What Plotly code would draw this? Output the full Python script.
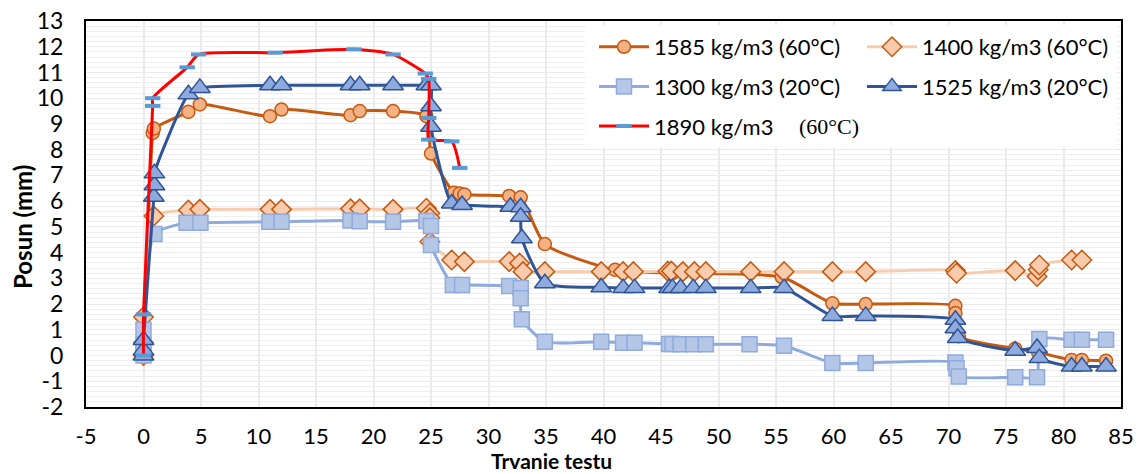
import plotly.graph_objects as go

# ---------------- data ----------------
t1585 = [0, 0, 0.8, 0.9, 3.9, 4.9, 11.0, 12.0, 18.0, 18.8, 21.7, 24.6, 25.0, 27.0, 27.5, 27.9,
         31.8, 32.8, 34.9, 41.0, 46.0, 55.5, 59.9, 62.8, 70.6, 70.6, 70.9, 75.8, 77.8, 80.7, 81.6, 83.7]
y1585 = [0, 0.3, 8.65, 8.82, 9.47, 9.76, 9.30, 9.56, 9.34, 9.50, 9.50, 9.30, 7.85, 6.33, 6.30, 6.26,
         6.20, 6.15, 4.33, 3.33, 3.20, 3.05, 2.03, 2.00, 1.93, 1.65, 0.75, 0.27, 0.12, -0.17, -0.17, -0.20]

t1400 = [0, 0, 0, 0.9, 3.9, 4.9, 11.0, 12.0, 18.0, 18.8, 21.7, 24.6, 24.9, 24.9, 24.9, 26.8, 27.9,
         31.8, 32.7, 33.0, 34.9, 39.8, 41.7, 42.6, 45.6, 45.9, 46.9, 47.9, 48.9, 52.8, 55.7, 59.9,
         62.8, 70.6, 70.7, 75.8, 77.7, 77.8, 77.9, 80.7, 81.6]
y1400 = [0, 0.5, 1.5, 5.42, 5.65, 5.68, 5.68, 5.68, 5.70, 5.70, 5.68, 5.72, 5.53, 5.35, 4.42, 3.71, 3.65,
         3.65, 3.59, 3.26, 3.26, 3.26, 3.26, 3.26, 3.28, 3.28, 3.26, 3.26, 3.26, 3.26, 3.26, 3.26,
         3.26, 3.30, 3.20, 3.30, 3.07, 3.33, 3.52, 3.71, 3.71]

t1300 = [0, 0, 0, 0.95, 3.75, 4.95, 10.95, 12.0, 18.0, 18.8, 21.7, 24.6, 25.0, 25.0, 26.9, 27.7,
         31.8, 32.8, 32.8, 32.9, 34.9, 39.8, 41.7, 42.7, 45.7, 46.0, 46.7, 47.8, 48.9, 52.7, 55.7,
         59.9, 62.8, 70.6, 70.7, 70.9, 75.8, 77.7, 77.9, 80.7, 81.6, 83.7]
y1300 = [0, 0.4, 1.0, 4.72, 5.16, 5.16, 5.20, 5.20, 5.25, 5.22, 5.20, 5.23, 5.03, 4.30, 2.74, 2.74,
         2.70, 2.62, 2.23, 1.41, 0.54, 0.54, 0.50, 0.50, 0.45, 0.45, 0.44, 0.44, 0.44, 0.44, 0.38,
         -0.29, -0.29, -0.27, -0.49, -0.81, -0.84, -0.84, 0.64, 0.61, 0.61, 0.61]

t1525 = [0, 0, 0, 0.9, 0.95, 0.95, 3.9, 4.9, 11.0, 12.0, 18.0, 18.8, 21.7, 24.6, 25.0, 25.0, 25.0,
         26.8, 27.7, 31.9, 32.8, 32.8, 32.9, 34.9, 39.8, 41.7, 42.7, 45.7, 46.0, 46.7, 47.8, 48.9,
         52.8, 55.7, 59.9, 62.8, 70.6, 70.6, 70.8, 75.8, 77.7, 77.9, 80.7, 81.6, 83.7]
y1525 = [0, 0.2, 0.6, 6.17, 6.62, 7.08, 10.15, 10.40, 10.50, 10.50, 10.50, 10.50, 10.50, 10.50, 10.50,
         9.69, 8.89, 5.91, 5.85, 5.78, 5.76, 5.39, 4.56, 2.81, 2.65, 2.62, 2.62, 2.62, 2.62, 2.62,
         2.62, 2.62, 2.62, 2.62, 1.54, 1.54, 1.39, 1.06, 0.68, 0.19, 0.29, -0.10, -0.43, -0.43, -0.43]

t1890 = [0, 0, 0.8, 0.8, 3.8, 4.8, 11.45, 18.3, 21.7, 24.5, 24.8, 24.8, 24.8, 26.8, 27.5]
y1890 = [0, 1.6, 9.7, 10.0, 11.2, 11.7, 11.77, 11.9, 11.7, 10.96, 10.75, 9.23, 8.39, 8.32, 7.29]

names = ["1585 kg/m3 (60°C)", "1400 kg/m3 (60°C)", "1300 kg/m3 (20°C)",
         "1525 kg/m3 (20°C)", "1890 kg/m3"]
x_ticks = list(range(-5, 90, 5))
y_ticks = list(range(-2, 14, 1))

# ---------------- figure ----------------
W, H = 1137, 474
ML, MR, MT, MB = 86, 16, 21, 67
PW, PH = W - ML - MR, H - MT - MB
FONT = "Lato"

def px_x(p):
    return (p - ML) / PW

def px_y(p):
    return 1 - (p - MT) / PH

fig = go.Figure()

specs = [
    (names[0], t1585, y1585, "#C55A11", "circle", 13, "#F4B183", "#C55A11", 1.5, "legend"),
    (names[1], t1400, y1400, "#F8CBAD", "diamond", 15, "#F8CBAD", "#C55A11", 1.5, "legend2"),
    (names[2], t1300, y1300, "#8FAADC", "square", 15, "#B4C7E7", "#8FAADC", 1.5, "legend"),
    (names[3], t1525, y1525, "#2F5597", "triangle-up", 18, "#8FAADC", "#2F5597", 1.5, "legend2"),
    (names[4], t1890, y1890, "#FF0000", "line-ew", 11, "#5B9BD5", "#5B9BD5", 4, "legend"),
]
for i, (nm, xs, ys, lc, sym, sz, fc, ec, lw, lg) in enumerate(specs):
    fig.add_trace(go.Scatter(
        x=xs, y=ys, name=nm, mode="lines+markers",
        line=dict(color=lc, width=3, shape="spline", smoothing=0.6),
        marker=dict(symbol=sym, size=sz, color=fc, line=dict(color=ec, width=lw)),
        legend=lg, legendgroup="g%d" % i,
    ))

leg_common = dict(orientation="v", bgcolor="rgba(0,0,0,0)", itemwidth=50,
                  font=dict(family=FONT, size=22, color="black"),
                  xanchor="left", yanchor="top", tracegroupgap=8, itemclick=False)
fig.update_layout(
    legend=dict(x=px_x(594), y=px_y(26), **leg_common),
    legend2=dict(x=px_x(862), y=px_y(26), **leg_common),
)

# white legend box
fig.add_shape(type="rect", xref="paper", yref="paper",
              x0=px_x(585), x1=px_x(1117), y0=px_y(147), y1=px_y(25),
              fillcolor="white", line=dict(width=0), layer="above")

fig.add_annotation(text="(60°C)", xref="paper", yref="paper", x=px_x(829), y=px_y(127),
                   showarrow=False, xanchor="center", yanchor="middle",
                   font=dict(family="Liberation Serif", size=22, color="black"))

fig.add_annotation(text="Posun (mm)", xref="paper", yref="paper", x=px_x(22), y=px_y(227),
                   showarrow=False, textangle=-90, xanchor="center", yanchor="middle",
                   font=dict(family=FONT, size=24, color="black", weight="bold"))
fig.add_annotation(text="Trvanie testu", xref="paper", yref="paper", x=px_x(551), y=px_y(460),
                   showarrow=False, xanchor="center", yanchor="middle",
                   font=dict(family=FONT, size=21, color="black", weight="bold"))

fig.update_xaxes(range=[-5, 85], tickvals=x_ticks, ticktext=[str(v) for v in x_ticks],
                 showgrid=True, gridcolor="#EBEBEB", gridwidth=2, zeroline=False,
                 showline=True, mirror=True, linecolor="black", linewidth=2,
                 ticks="", ticklabelstandoff=9, automargin=False,
                 tickfont=dict(family=FONT, size=22, color="black"))
fig.update_yaxes(range=[-2, 13], tickvals=y_ticks, ticktext=[str(v) for v in y_ticks],
                 showgrid=True, gridcolor="#EBEBEB", gridwidth=1.2, zeroline=False,
                 minor=dict(dtick=0.2, showgrid=True, gridcolor="#EFEFEF", gridwidth=1.2),
                 showline=True, mirror=True, linecolor="black", linewidth=2,
                 ticks="", ticklabelstandoff=16, automargin=False,
                 tickfont=dict(family=FONT, size=23, color="black"))

fig.update_layout(width=W, height=H, margin=dict(l=ML, r=MR, t=MT, b=MB, autoexpand=False),
                  paper_bgcolor="white", plot_bgcolor="white",
                  font=dict(family=FONT, color="black"))

fig.write_html("out.html")
